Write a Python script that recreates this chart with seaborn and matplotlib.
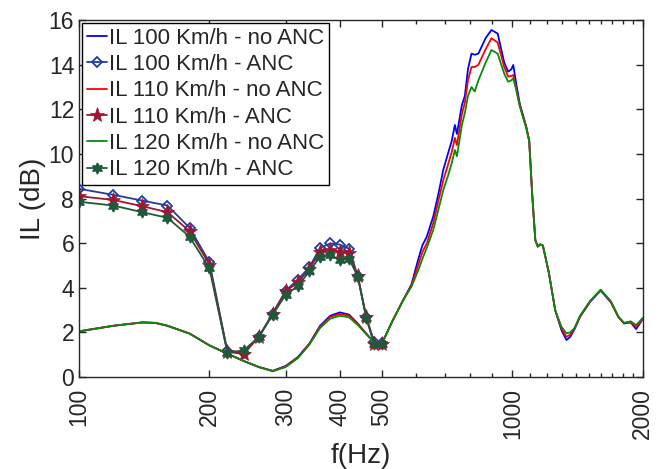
import numpy as np
import pandas as pd
import seaborn as sns
import matplotlib.pyplot as plt
from matplotlib.ticker import FixedLocator, NullFormatter

# --- data ---
# no ANC curves (dense frequency grid)
f_noanc = [100, 120, 140, 150, 160, 180, 200, 220, 240, 260, 280, 300, 320, 340, 360,
           380, 400, 420, 440, 460, 480, 500, 530, 560, 585, 607, 620, 635, 657, 675,
           693, 710, 725, 737, 745, 765, 777, 790, 805, 819, 835, 868, 895, 925, 958,
           978, 995, 1005, 1020, 1040, 1060, 1077, 1094, 1111, 1130, 1145, 1160, 1176,
           1195, 1215, 1256, 1298, 1333, 1360, 1392, 1433, 1513, 1599, 1689, 1756, 1811,
           1876, 1931, 2000]
il100_noanc = [2.05, 2.3, 2.45, 2.43, 2.3, 1.95, 1.42, 1.05, 0.72, 0.45, 0.28, 0.5, 0.9, 1.5, 2.3,
               2.75, 2.9, 2.8, 2.4, 1.95, 1.55, 1.5, 2.55, 3.45, 4.15, 5.3, 5.9, 6.3, 7.2, 8.2,
               9.3, 10.0, 10.6, 11.3, 10.9, 12.2, 12.6, 13.8, 14.5, 14.45, 14.5, 15.2, 15.56, 15.4, 14.1,
               13.69, 13.8, 13.99, 13.2, 12.27, 11.7, 11.22, 10.6, 8.24, 6.14, 5.85, 5.95, 5.9,
               5.3, 4.65, 3.0, 2.11, 1.66, 1.8, 2.15, 2.7, 3.38, 3.88, 3.35, 2.7, 2.4,
               2.45, 2.15, 2.6]
il110_noanc = [2.05, 2.3, 2.45, 2.43, 2.3, 1.95, 1.42, 1.05, 0.72, 0.45, 0.27, 0.48, 0.88, 1.48, 2.25,
               2.7, 2.83, 2.75, 2.37, 1.95, 1.55, 1.5, 2.55, 3.45, 4.1, 5.05, 5.6, 6.0, 6.9, 7.9,
               8.83, 9.5, 10.1, 10.72, 10.4, 11.8, 12.3, 13.3, 13.9, 13.9, 14.0, 14.7, 15.19, 15.0, 13.9,
               13.47, 13.5, 13.54, 13.0, 12.2, 11.65, 11.2, 10.6, 8.24, 6.14, 5.85, 5.95, 5.9,
               5.3, 4.65, 3.0, 2.18, 1.8, 1.9, 2.18, 2.72, 3.4, 3.9, 3.37, 2.7, 2.42,
               2.48, 2.25, 2.62]
il120_noanc = [2.05, 2.3, 2.45, 2.43, 2.3, 1.95, 1.42, 1.05, 0.72, 0.45, 0.26, 0.45, 0.85, 1.45, 2.2,
               2.62, 2.75, 2.68, 2.33, 1.93, 1.55, 1.5, 2.55, 3.45, 4.05, 4.8, 5.3, 5.8, 6.6, 7.5,
               8.39, 9.0, 9.6, 10.18, 9.9, 11.3, 11.84, 12.6, 13.0, 12.8, 13.3, 14.1, 14.66, 14.5, 13.6,
               13.24, 13.3, 13.4, 12.9, 12.15, 11.6, 11.15, 10.55, 8.24, 6.14, 5.85, 5.95, 5.9,
               5.3, 4.65, 3.0, 2.26, 1.96, 2.0, 2.2, 2.75, 3.42, 3.92, 3.4, 2.72, 2.43,
               2.5, 2.33, 2.65]

# ANC curves (markers every 20 Hz)
f_anc = [100, 120, 140, 160, 180, 200, 220, 240, 260, 280, 300, 320, 340, 360, 380,
         400, 420, 440, 460, 480, 500]
il100_anc = [8.44, 8.17, 7.91, 7.69, 6.69, 5.15, 1.15, 1.08, 1.8, 2.85, 3.88, 4.37, 4.92, 5.79, 5.99,
             5.94, 5.75, 4.52, 2.7, 1.56, 1.53]
il110_anc = [8.11, 7.94, 7.66, 7.39, 6.54, 5.04, 1.12, 1.05, 1.8, 2.85, 3.85, 4.25, 4.85, 5.61, 5.69,
             5.61, 5.54, 4.52, 2.7, 1.5, 1.5]
il120_anc = [7.86, 7.69, 7.39, 7.14, 6.29, 4.87, 1.1, 1.2, 1.8, 2.8, 3.7, 4.07, 4.74, 5.39, 5.46,
             5.27, 5.30, 4.5, 2.65, 1.5, 1.5]

xticks = [100, 200, 300, 400, 500, 1000, 2000]

sns.set_style("ticks")
plt.rcParams['font.family'] = ['Liberation Sans', 'DejaVu Sans']

fig = plt.figure(figsize=(6.64, 4.69), dpi=100)
ax = fig.add_axes([0.119, 0.196, 0.849, 0.761])

series = [
    ("IL 100 Km/h - no ANC", f_noanc, il100_noanc, dict(color="#0000ff")),
    ("IL 100 Km/h - ANC", f_anc, il100_anc, dict(color="#1f3ea0", marker="D", markersize=5,
                                               markerfacecolor="none", markeredgecolor="#1f3ea0",
                                               markeredgewidth=1.3)),
    ("IL 110 Km/h - no ANC", f_noanc, il110_noanc, dict(color="#ff0000")),
    ("IL 110 Km/h - ANC", f_anc, il110_anc, dict(color="#a2142f", marker="*", markersize=11,
                                               markeredgecolor="#a2142f", markeredgewidth=0.5)),
    ("IL 120 Km/h - no ANC", f_noanc, il120_noanc, dict(color="#0a8a0a")),
    ("IL 120 Km/h - ANC", f_anc, il120_anc, dict(color="#1e5a3a", marker=(6, 1, 0), markersize=8,
                                               markeredgecolor="#1e5a3a", markeredgewidth=1.0)),
]

for label, fx, fy, style in series:
    sns.lineplot(x=fx, y=fy, ax=ax, label=label, linewidth=1.3, sort=False, **style)

ax.set_xscale("log")
ax.set_xlim(100, 2000)
ax.set_ylim(0, 16)
ax.xaxis.set_major_locator(FixedLocator(xticks))
ax.set_xticklabels([str(t) for t in xticks], rotation=90)
minor = [v for v in range(600, 1000, 100)] + [v for v in range(1100, 2000, 100)]
ax.xaxis.set_minor_locator(FixedLocator(minor))
ax.xaxis.set_minor_formatter(NullFormatter())
ax.set_yticks(range(0, 17, 2))

ax.tick_params(which="both", direction="in", top=True, right=True, labelsize=16.5,
               color="#262626", width=1.0)
ax.tick_params(which="major", length=5)
ax.tick_params(which="minor", length=3)
ax.tick_params(axis="x", pad=8)
for s in ax.spines.values():
    s.set_color("#262626")
    s.set_linewidth(1.0)

ax.set_xlabel("f(Hz)", fontsize=20, labelpad=3)
ax.set_ylabel("IL (dB)", fontsize=20, labelpad=2)

leg = ax.legend(loc="upper left", fontsize=16, handlelength=0.9, handletextpad=0.1,
                borderpad=0.22, labelspacing=0.24, borderaxespad=0.12, fancybox=False,
                framealpha=1, edgecolor="#000000")
leg.get_frame().set_linewidth(1.0)

fig.savefig("out.png", dpi=100)
